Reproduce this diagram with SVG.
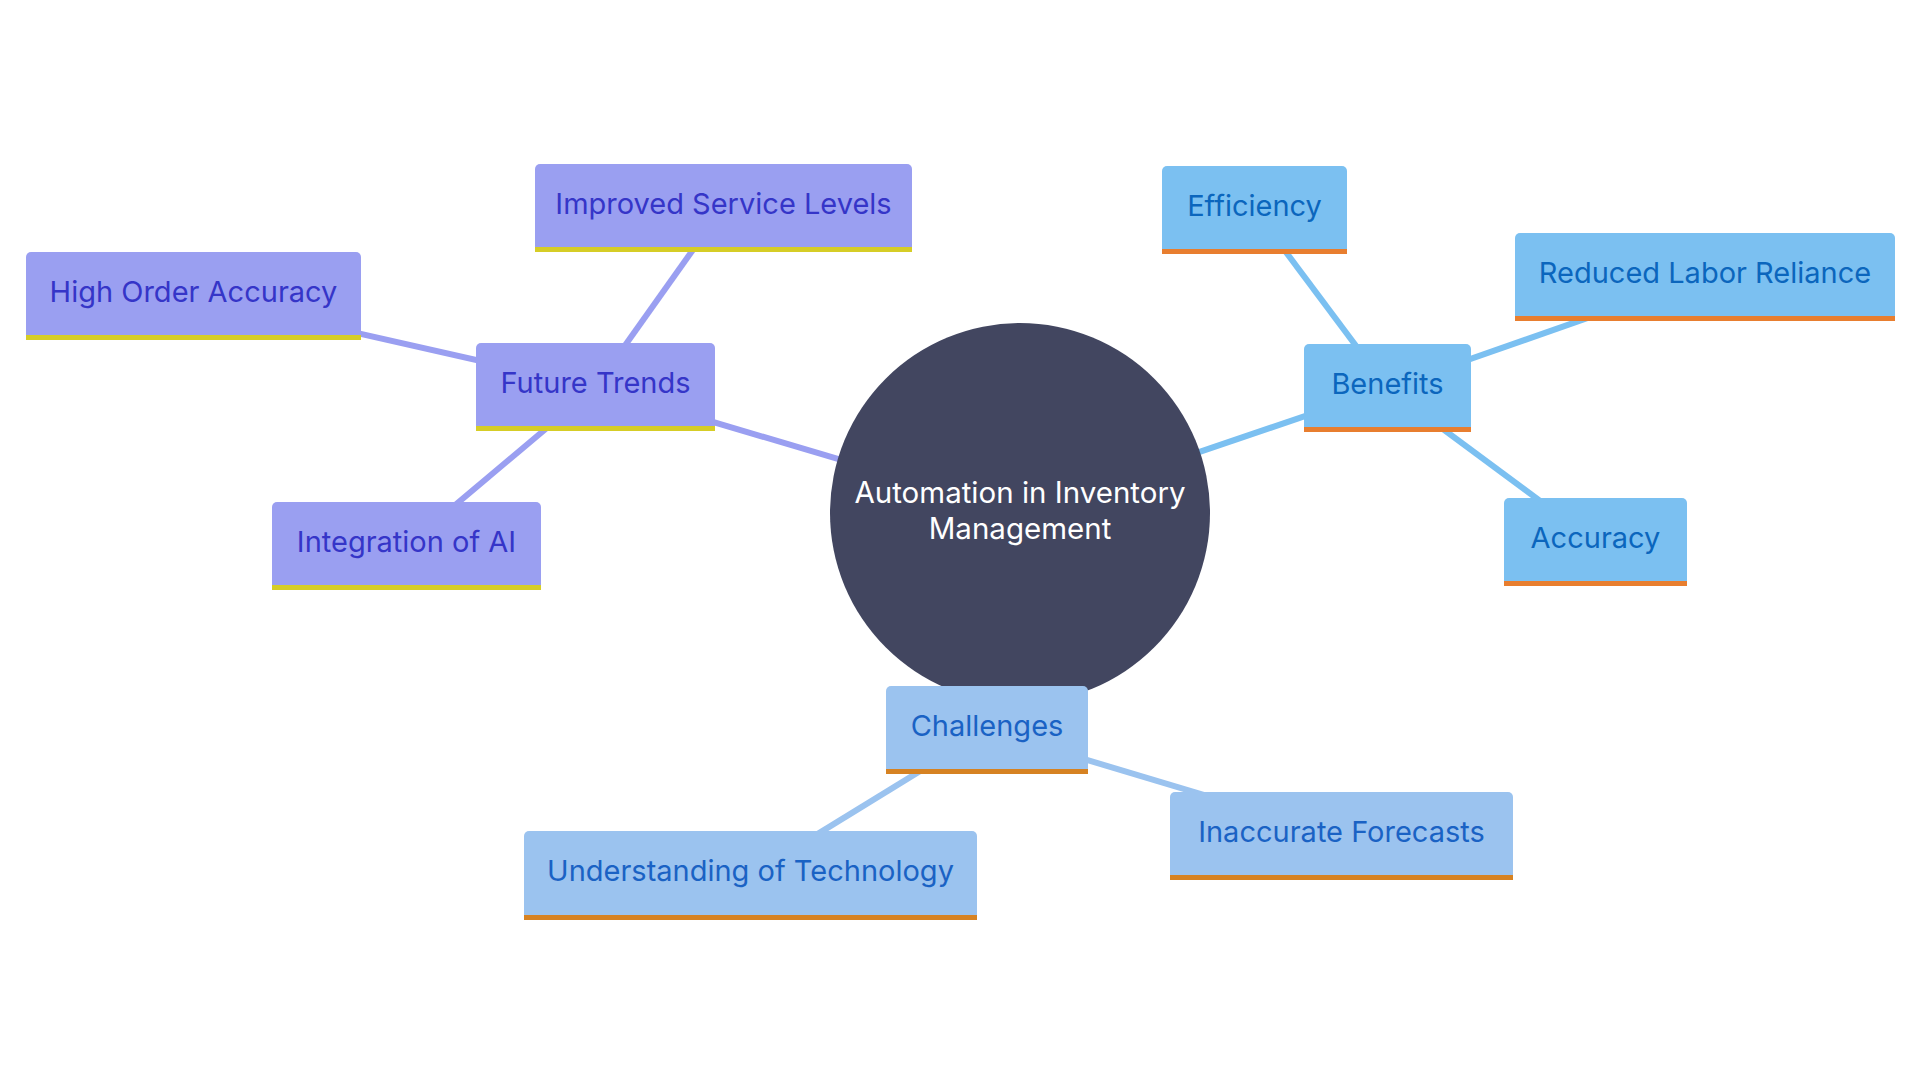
<svg xmlns="http://www.w3.org/2000/svg" width="1920" height="1080" viewBox="0 0 1920 1080">
<style>
text{font-family:Inter,"Noto Sans",sans-serif;font-size:29px;text-anchor:middle}
.e{stroke-width:6;fill:none;stroke-linecap:butt}
.eft{stroke:#9a9ff1}
.eb{stroke:#7bc0f1}
.ec{stroke:#9bc3ef}
.ft .box{fill:#9a9ff1}
.ft text{fill:#3535c8}
.ft .bar{fill:#d6cd26}
.b .box{fill:#7bc0f1}
.b text{fill:#0b66bd}
.b .bar{fill:#e87e2f}
.c .box{fill:#9bc3ef}
.c text{fill:#1a62c4}
.c .bar{fill:#d68222}
</style>
<rect width="1920" height="1080" fill="#ffffff"/>
<g id="connectors">
<line class="e eft" x1="1020" y1="513" x2="595.5" y2="387"/>
<line class="e eft" x1="595.5" y1="387" x2="723" y2="207.5"/>
<line class="e eft" x1="595.5" y1="387" x2="193" y2="296"/>
<line class="e eft" x1="595.5" y1="387" x2="406.5" y2="546"/>
<line class="e eb" x1="1020" y1="513" x2="1387.5" y2="388"/>
<line class="e eb" x1="1387.5" y1="388" x2="1254.5" y2="210"/>
<line class="e eb" x1="1387.5" y1="388" x2="1704.5" y2="277"/>
<line class="e eb" x1="1387.5" y1="388" x2="1595.5" y2="542"/>
<line class="e ec" x1="1020" y1="513" x2="987" y2="730"/>
<line class="e ec" x1="987" y1="730" x2="750" y2="875.5"/>
<line class="e ec" x1="987" y1="730" x2="1341" y2="836"/>
</g>
<g id="root">
<circle cx="1020" cy="513" r="190" fill="#424660"/>
<text x="1020" y="503" fill="#ffffff" style="font-size:29.5px">Automation in Inventory</text>
<text x="1020" y="539" fill="#ffffff" style="font-size:29.5px">Management</text>
</g>
<g id="future-trends" class="ft">
<rect class="box" x="476" y="343" width="239" height="88" rx="5"/>
<rect class="bar" x="476" y="426" width="239" height="5"/>
<text x="595.5" y="393">Future Trends</text>
</g>
<g id="improved-service-levels" class="ft">
<rect class="box" x="535" y="164" width="377" height="88" rx="5"/>
<rect class="bar" x="535" y="247" width="377" height="5"/>
<text x="723.5" y="214">Improved Service Levels</text>
</g>
<g id="high-order-accuracy" class="ft">
<rect class="box" x="26" y="252" width="335" height="88" rx="5"/>
<rect class="bar" x="26" y="335" width="335" height="5"/>
<text x="193.5" y="302">High Order Accuracy</text>
</g>
<g id="integration-of-ai" class="ft">
<rect class="box" x="272" y="502" width="269" height="88" rx="5"/>
<rect class="bar" x="272" y="585" width="269" height="5"/>
<text x="406.5" y="552">Integration of AI</text>
</g>
<g id="benefits" class="b">
<rect class="box" x="1304" y="344" width="167" height="88" rx="5"/>
<rect class="bar" x="1304" y="427" width="167" height="5"/>
<text x="1387.5" y="394">Benefits</text>
</g>
<g id="efficiency" class="b">
<rect class="box" x="1162" y="166" width="185" height="88" rx="5"/>
<rect class="bar" x="1162" y="249" width="185" height="5"/>
<text x="1254.5" y="216">Efficiency</text>
</g>
<g id="reduced-labor-reliance" class="b">
<rect class="box" x="1515" y="233" width="380" height="88" rx="5"/>
<rect class="bar" x="1515" y="316" width="380" height="5"/>
<text x="1705" y="283">Reduced Labor Reliance</text>
</g>
<g id="accuracy" class="b">
<rect class="box" x="1504" y="498" width="183" height="88" rx="5"/>
<rect class="bar" x="1504" y="581" width="183" height="5"/>
<text x="1595.5" y="548">Accuracy</text>
</g>
<g id="challenges" class="c">
<rect class="box" x="886" y="686" width="202" height="88" rx="5"/>
<rect class="bar" x="886" y="769" width="202" height="5"/>
<text x="987" y="736">Challenges</text>
</g>
<g id="understanding-of-technology" class="c">
<rect class="box" x="524" y="831" width="453" height="89" rx="5"/>
<rect class="bar" x="524" y="915" width="453" height="5"/>
<text x="750.5" y="881">Understanding of Technology</text>
</g>
<g id="inaccurate-forecasts" class="c">
<rect class="box" x="1170" y="792" width="343" height="88" rx="5"/>
<rect class="bar" x="1170" y="875" width="343" height="5"/>
<text x="1341.5" y="842">Inaccurate Forecasts</text>
</g>
</svg>
